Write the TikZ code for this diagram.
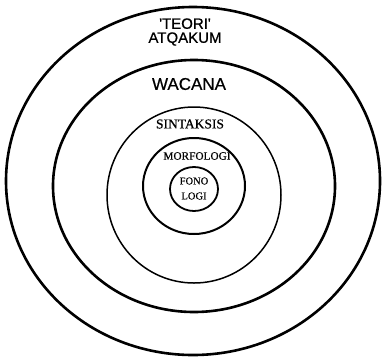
\documentclass[tikz,border=0pt]{standalone}
\usepackage{fontspec}
\setmainfont{Liberation Serif}[FakeBold=0.6]
\newfontfamily\arialfont{Liberation Sans}[FakeBold=0.6]
\begin{document}
\begin{tikzpicture}[x=1pt,y=-1pt,
  ring/.style={draw=black},
  sanslab/.style={font=\arialfont\fontsize{15}{14}\selectfont, inner sep=0pt, align=center},
  seriflab/.style={inner sep=0pt, align=center}]
\useasboundingbox (0,0) rectangle (382,359);
% rings
\draw[ring, line width=2.6pt] (193,181) ellipse [x radius=187, y radius=174];
\draw[ring, line width=2.6pt] (194,186) ellipse [x radius=141, y radius=126];
\draw[ring, line width=1.5pt] (194,195) ellipse [x radius=87, y radius=88];
\draw[ring, line width=2pt] (194,186) ellipse [x radius=51, y radius=48];
\draw[ring, line width=1.8pt] (194,189) ellipse [x radius=24, y radius=22];
% labels
\node[sanslab] (teori) at (185,32) {'TEORI'\\ATQAKUM};
\node[sanslab, font=\arialfont\fontsize{17}{19}\selectfont] (wacana) at (189,84) {WACANA};
\node[seriflab, font=\fontsize{13.5}{15}\selectfont] (sintaksis) at (190,124) {SINTAKSIS};
\node[seriflab, font=\fontsize{11.3}{13}\selectfont] (morfologi) at (197,156) {MORFOLOGI};
\node[seriflab, font=\fontsize{10.5}{15}\selectfont] (fonologi) at (194,188.5) {FONO\\LOGI};
\end{tikzpicture}
\end{document}
